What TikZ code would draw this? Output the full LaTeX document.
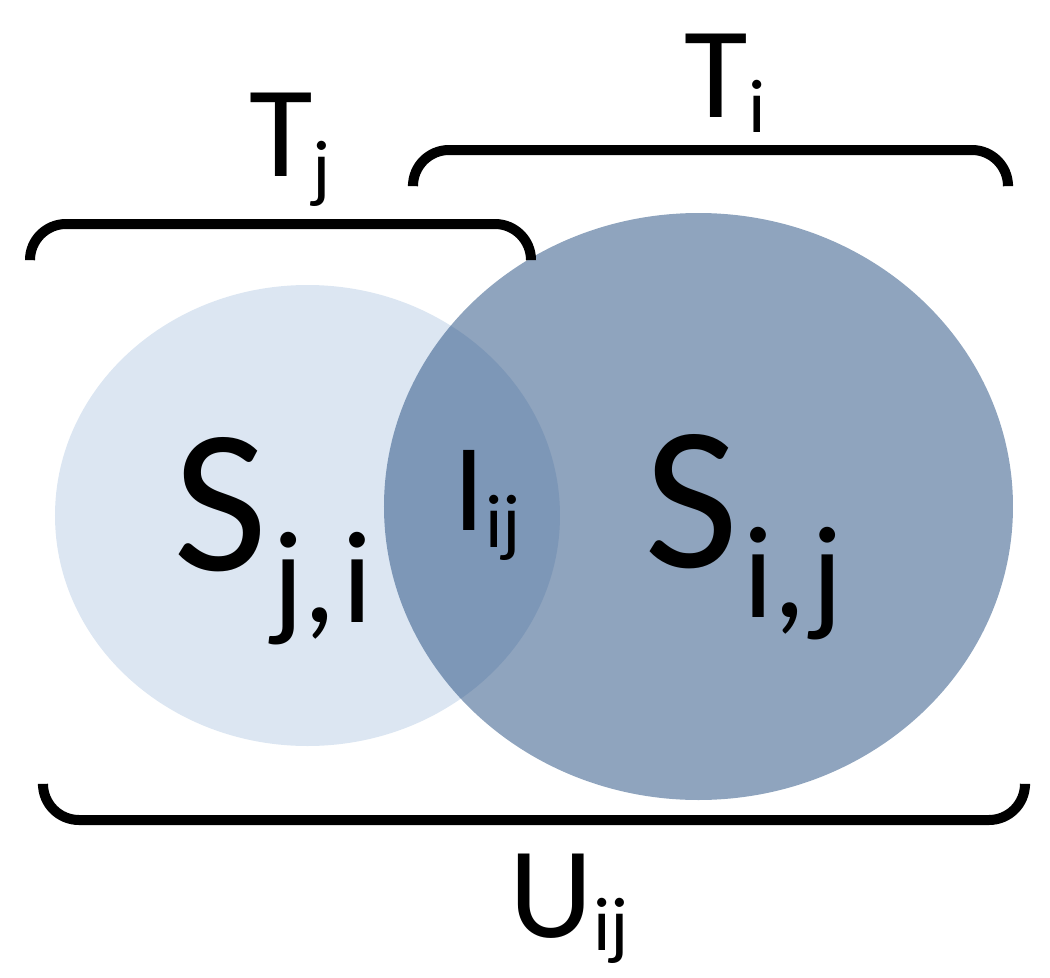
\documentclass[tikz,border=0pt]{standalone}
\usepackage{fontspec}
\setmainfont{Carlito}
\definecolor{lightfill}{HTML}{DCE6F2}
\definecolor{darkfill}{HTML}{1F497D}
\newcommand\mylab[5]{{\fontsize{#1}{#1}\selectfont #4}{\raisebox{-#3}{\fontsize{#2}{#2}\selectfont #5}}}
\tikzset{
  bracket/.style={line width=0.1cm, rounded corners=0.36cm, line cap=butt},
  lab/.style={anchor=base west, inner sep=0pt, outer sep=0pt}
}
\begin{document}
\begin{tikzpicture}[x=0.01cm,y=-0.01cm]
\useasboundingbox (0,0) rectangle (1050,978);
% sets
\fill[lightfill] (307.5,515.5) ellipse [x radius=252.5, y radius=230.5];
\fill[darkfill, opacity=0.5] (698.5,506.5) ellipse [x radius=314.5, y radius=293.5];
% brackets
\coordinate (tjl) at (30,260);
\coordinate (tjr) at (531,260);
\draw[bracket] (tjl) -- (30,224) -- (531,224) -- (tjr);
\coordinate (til) at (413,184);
\coordinate (tir) at (1008,184);
\draw[bracket] (til) -- (413,150) -- (1008,150) -- (tir);
\coordinate (ul) at (43,786);
\coordinate (ur) at (1025,786);
\draw[bracket] (ul) -- (43,820) -- (1025,820) -- (ur);
% labels
\node[lab] (Tj) at (249,176) {\mylab{37pt}{21.6pt}{0.17cm}{T}{j}};
\node[lab] (Ti) at (685,117) {\mylab{37pt}{21.6pt}{0.15cm}{T}{i}};
\node[lab] (Iij) at (454,530) {\mylab{35.5pt}{21.6pt}{0.17cm}{I}{ij}};
\node[lab] (Sji) at (174,570) {\mylab{58.3pt}{37.3pt}{0.52cm}{S}{\kern0.04cm j,\kern0.06cm i}};
\node[lab] (Sij) at (645,567) {\mylab{58.3pt}{37.3pt}{0.50cm}{S}{\kern0.04cm i,\kern0.06cm j}};
\node[lab] (Uij) at (510,937) {\mylab{37pt}{21.6pt}{0.13cm}{U}{ij}};
\end{tikzpicture}
\end{document}
